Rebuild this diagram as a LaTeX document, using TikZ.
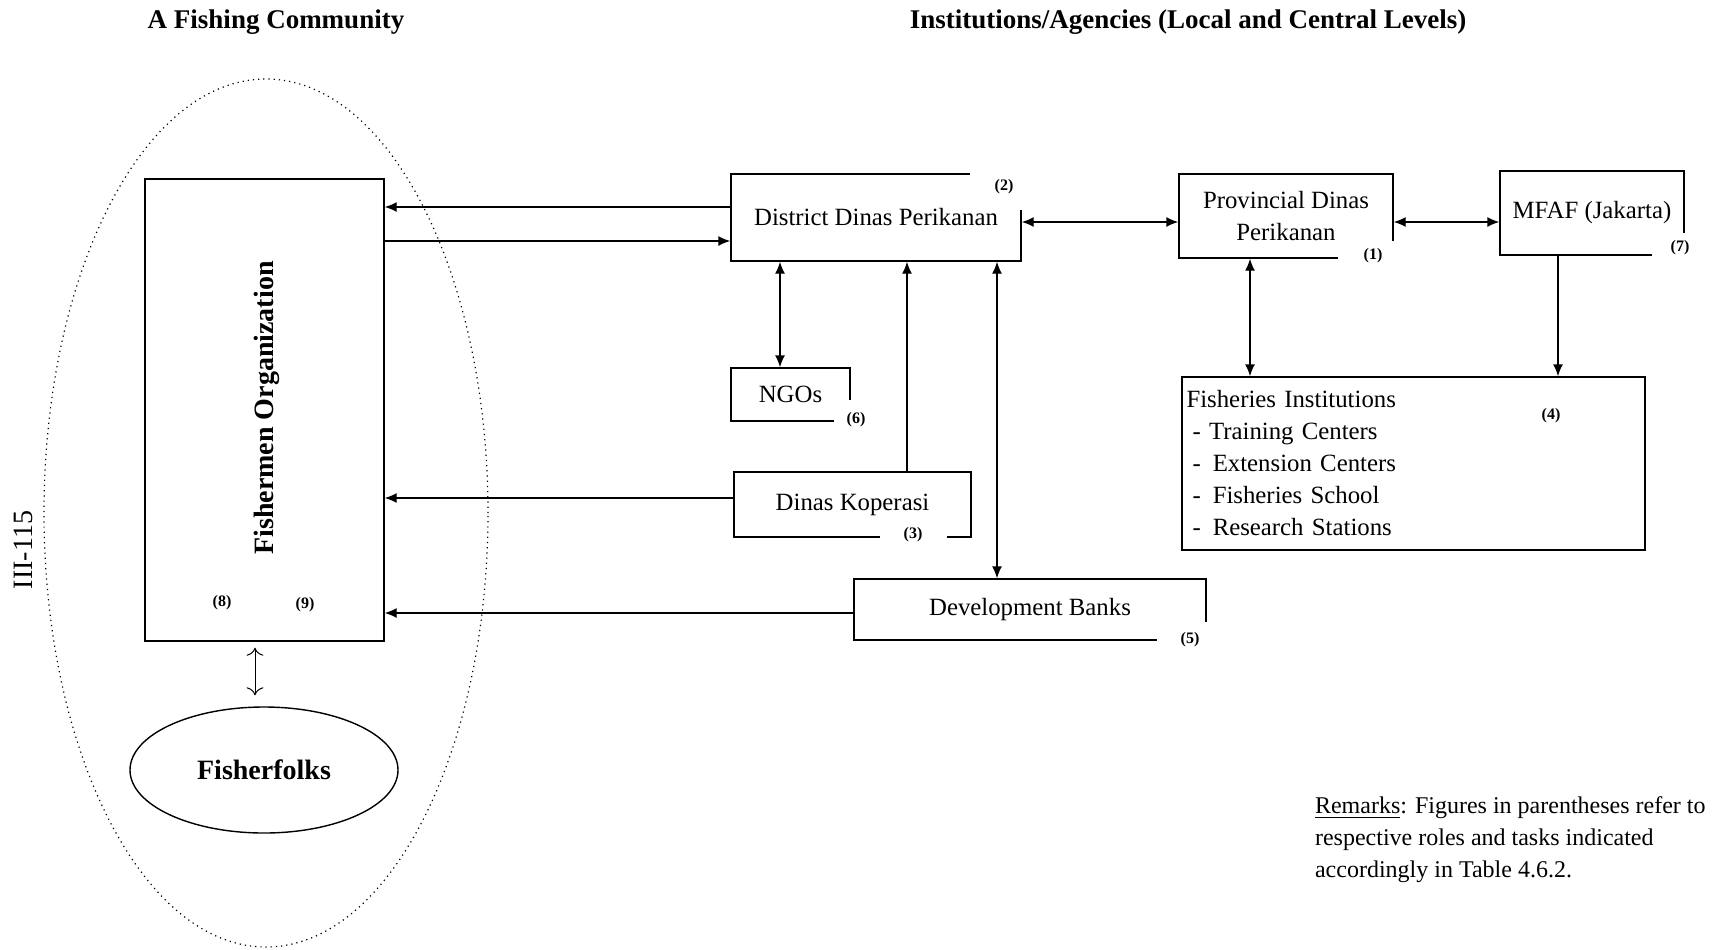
\documentclass[tikz,border=0pt]{standalone}
\usepackage{fontspec}
\setmainfont{Liberation Serif}
\usetikzlibrary{arrows.meta,shapes.geometric}

\tikzset{
  box/.style={draw, line width=0.7pt, inner sep=2pt, font=\fontsize{12.4}{16}\selectfont},
  tag/.style={font=\fontsize{8}{9}\selectfont\bfseries, inner sep=1pt},
  gap/.style={tag, fill=white},
  head/.style={font=\fontsize{13.5}{16}\selectfont\bfseries},
  link/.style={line width=0.7pt, -{Latex[length=6pt,width=5pt]}},
  both/.style={line width=0.7pt, {Latex[length=6pt,width=5pt]}-{Latex[length=6pt,width=5pt]}},
}

\begin{document}
\begin{tikzpicture}[x=0.5pt, y=-0.5pt]
    \useasboundingbox (0,0) rectangle (1724,949);

    % headings
    \node[head] (hcomm) at (276,22) {A Fishing Community};
    \node[head] (hinst) at (1188,22) {Institutions/Agencies (Local and Central Levels)};
    \node[font=\fontsize{14}{16}\selectfont, rotate=90] (page) at (23,550) {III-115};

    % the fishing community
    \node[draw, dotted, ellipse, line width=0.6pt, minimum width=222pt, minimum height=434pt] (comm) at (266,513) {};
    \node[box, minimum width=119.5pt, minimum height=231pt] (fo) at (264.5,410) {};
    \node[font=\fontsize{14}{16}\selectfont\bfseries, rotate=90] (foname) at (267,408) {Fishermen Organization};
    \node[tag] (t8) at (222,603) {(8)};
    \node[tag] (t9) at (305,605) {(9)};
    \node[box, ellipse, minimum width=134pt, minimum height=63pt, font=\fontsize{14}{16}\selectfont\bfseries] (folks) at (264,770) {Fisherfolks};

    % institutions and agencies
    \node[box, minimum width=145pt, minimum height=43.5pt] (dist) at (876,217.5) {District Dinas Perikanan};
    \node[box, minimum width=107pt, minimum height=42pt, align=center] (prov) at (1286,216) {Provincial Dinas\\Perikanan};
    \node[box, minimum width=92pt, minimum height=42pt] (mfaf) at (1592,213) {MFAF (Jakarta)};
    \node[box, minimum width=59.5pt, minimum height=26.5pt] (ngo) at (790.5,394.5) {NGOs};
    \node[box, minimum width=118.5pt, minimum height=32.5pt] (kop) at (852.5,504.5) {Dinas Koperasi};
    \node[box, minimum width=176pt, minimum height=30.5pt] (bank) at (1030,609.5) {Development Banks};
    \node[box, minimum width=231.5pt, minimum height=86.5pt, text width=227pt, align=left] (fish) at (1413.5,463.5)
        {Fisheries Institutions\\
         \hspace{3pt}- Training Centers\\
         \hspace{3pt}-\hspace{6pt}Extension Centers\\
         \hspace{3pt}-\hspace{6pt}Fisheries School\\
         \hspace{3pt}-\hspace{6pt}Research Stations};

    % role numbers
    \node[gap, minimum width=34pt, minimum height=23pt] (t2) at (1004,187) {(2)};
    \node[gap, minimum width=35pt, minimum height=15pt] (t1) at (1373,256) {(1)};
    \node[gap, minimum width=28pt, minimum height=15pt] (t7) at (1680,248) {(7)};
    \node[gap, minimum width=22pt, minimum height=20pt] (t6) at (856,420) {(6)};
    \node[gap, minimum width=33.5pt, minimum height=10pt] (t3) at (913,535) {(3)};
    \node[gap, minimum width=33pt, minimum height=18pt] (t5) at (1190,640) {(5)};
    \node[tag] (t4) at (1551,416) {(4)};

    % links
    \draw[link] (dist.west |- 0,207) -- (fo.east |- 0,207);
    \draw[link] (fo.east |- 0,241) -- (dist.west |- 0,241);
    \draw[both] (dist.east |- 0,222) -- (prov.west |- 0,222);
    \draw[both] (prov.east |- 0,222) -- (mfaf.west |- 0,222);
    \draw[both] (dist.south -| 780,0) -- (ngo.north -| 780,0);
    \draw[link] (kop.north -| 907,0) -- (dist.south -| 907,0);
    \draw[both] (dist.south -| 997,0) -- (bank.north -| 997,0);
    \draw[link] (kop.west |- 0,498) -- (fo.east |- 0,498);
    \draw[link] (bank.west |- 0,613) -- (fo.east |- 0,613);
    \draw[both] (prov.south -| 1250,0) -- (fish.north -| 1250,0);
    \draw[link] (mfaf.south -| 1558,0) -- (fish.north -| 1558,0);
    \draw[{To[length=4pt]}-{To[length=4pt]}, line width=0.5pt, shorten <=3pt, shorten >=5.5pt] (fo.south -| 255,0) -- (folks.north -| 255,0);

    \node[anchor=west, align=left, font=\fontsize{12}{16}\selectfont] (remarks) at (1308,840)
        {\underline{Remarks}: Figures in parentheses refer to\\respective roles and tasks indicated\\accordingly in Table 4.6.2.};
\end{tikzpicture}
\end{document}
